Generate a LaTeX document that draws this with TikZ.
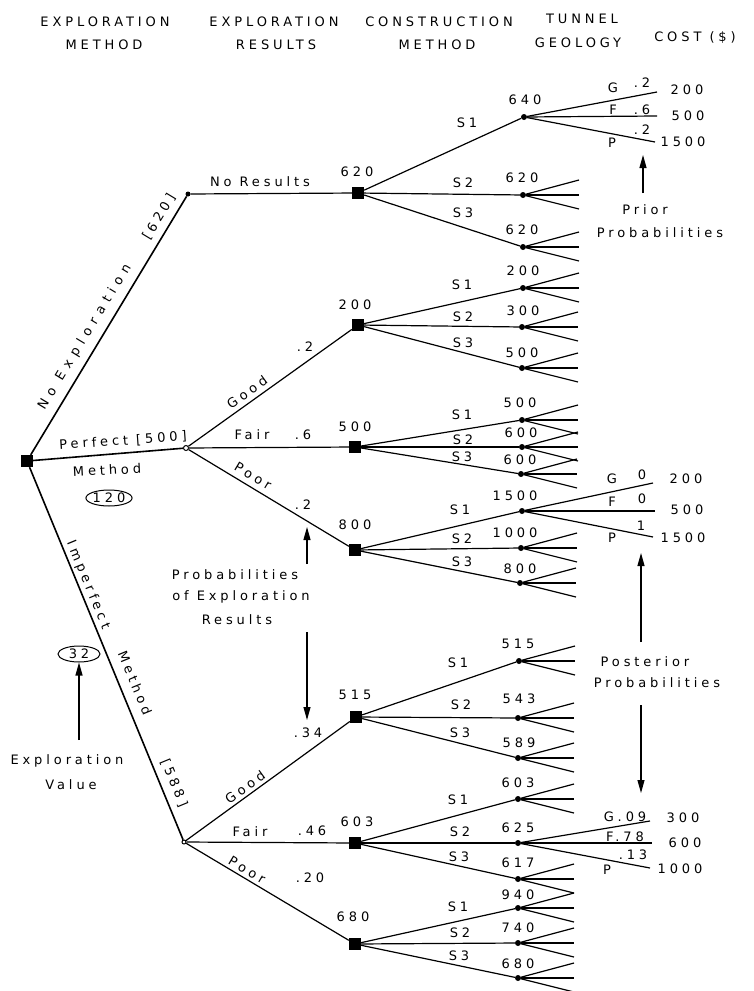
\documentclass[tikz,border=0pt]{standalone}
\usepackage{fontspec}
\newfontfamily\lf[LetterSpace=30]{DejaVu Sans}
\newfontfamily\lfw[LetterSpace=46]{DejaVu Sans}
\usetikzlibrary{arrows.meta,shapes.geometric}
\newcommand\chance[9]{\node[chn] (#1) at (#2,#3) {}; \node at (#5,#6) {#4}; \node at (#8,#9) {#7};}
\newcommand\stubs[1]{\draw[ln] (#1) -- ++(56,-15); \draw[ln] (#1) -- ++(56,0); \draw[ln] (#1) -- ++(56,14);}
\begin{document}
\begin{tikzpicture}[x=1pt,y=-1pt,
  every node/.style={font={\lf\fontsize{13}{15}\selectfont},inner sep=0pt},
  wide/.style={font={\lfw\fontsize{13}{15}\selectfont}},
  dec/.style={rectangle,fill=black,minimum size=12pt,inner sep=0pt},
  chn/.style={circle,fill=black,minimum size=6pt,inner sep=0pt},
  res/.style={circle,draw,fill=white,minimum size=5pt,inner sep=0pt,line width=1pt},
  ln/.style={line width=1.2pt},
  thk/.style={line width=1.6pt},
  arr/.style={line width=1.1pt,-{Triangle[length=13pt,width=7pt]}},
  oval/.style={ellipse,draw,line width=1pt,minimum width=42pt,minimum height=16pt}]
\useasboundingbox (0,0) rectangle (754,991);
% headers
\node at (105,22) {EXPLORATION}; \node at (104,45) {METHOD};
\node at (274,22) {EXPLORATION}; \node at (276,45) {RESULTS};
\node at (439,22) {CONSTRUCTION}; \node at (437,45) {METHOD};
\node at (582,19) {TUNNEL}; \node at (578,43) {GEOLOGY};
\node at (695,38) {COST (\$)};
% root and exploration results
\node[dec] (R) at (27,461) {};
\node[chn,minimum size=5pt] (NR) at (188,194) {};
\node[res] (PF) at (186,448) {};
\node[res,minimum size=4pt] (IM) at (184,842) {};
% decision squares
\node[dec] (D0) at (358,193) {}; \node at (357,172) {620};
\node[dec] (DG) at (358,325) {}; \node at (355,305) {200};
\node[dec] (DF) at (355,447) {}; \node at (355,427) {500};
\node[dec] (DP) at (355,550) {}; \node at (355,525) {800};
\node[dec] (IG) at (356,717) {}; \node at (355,695) {515};
\node[dec] (IF) at (355,843) {}; \node at (357,822) {603};
\node[dec] (IP) at (355,944) {}; \node at (353,917) {680};
% first level edges
\draw[thk] (R) -- (NR); \draw[thk] (R) -- (PF); \draw[thk] (R) -- (IM);
\draw[ln] (NR) -- (D0);
\draw[ln] (PF) -- (DG); \draw[ln] (PF) -- (DF); \draw[ln] (PF) -- (DP);
\draw[ln] (IM) -- (IG); \draw[ln] (IM) -- (IF); \draw[ln] (IM) -- (IP);
% first level labels
\node[wide,rotate=58.8] at (85,337) {No Exploration};
\node[rotate=58.8] at (159,217) {[620]};
\node[rotate=4] at (123,441) {Perfect [500]};
\node[rotate=3] at (107,470) {Method};
\node[oval] (v120) at (109,498) {120};
\node[rotate=-67.6] at (88,585) {Imperfect};
\node[rotate=-67.6] at (135,683) {Method};
\node[rotate=-67.6] at (174,783) {[588]};
\node at (260,182) {No Results};
\node[rotate=35.8] at (247,392) {Good}; \node at (305,347) {.2};
\node at (252,435) {Fair}; \node at (303,435) {.6};
\node[rotate=-30.9] at (253,476) {Poor}; \node at (303,505) {.2};
\node[rotate=36] at (245,787) {Good}; \node at (308,733) {.34};
\node at (250,832) {Fair}; \node at (312,831) {.46};
\node[rotate=-30.8] at (247,870) {Poor}; \node at (310,878) {.20};
% chance nodes
\chance{a1}{524}{117}{640}{525}{100}{S1}{467}{123}
\chance{a2}{523}{195}{620}{522}{178}{S2}{463}{183}
\chance{a3}{523}{247}{620}{522}{230}{S3}{463}{213}
\chance{b1}{523}{288}{200}{523}{271}{S1}{462}{285}
\chance{b2}{522}{327}{300}{523}{311}{S2}{463}{317}
\chance{b3}{522}{368}{500}{522}{353}{S3}{463}{343}
\chance{c1}{522}{420}{500}{520}{403}{S1}{462}{415}
\chance{c2}{522}{447}{600}{521}{433}{S2}{463}{440}
\chance{c3}{521}{474}{600}{520}{460}{S3}{462}{457}
\chance{d1}{522}{511}{1500}{515}{496}{S1}{460}{510}
\chance{d2}{521}{548}{1000}{515}{533}{S2}{462}{539}
\chance{d3}{520}{583}{800}{520}{569}{S3}{462}{562}
\chance{e1}{519}{661}{515}{518}{644}{S1}{458}{663}
\chance{e2}{518}{718}{543}{519}{699}{S2}{461}{705}
\chance{e3}{518}{758}{589}{519}{743}{S3}{460}{733}
\chance{f1}{518}{799}{603}{518}{783}{S1}{458}{800}
\chance{f2}{518}{843}{625}{518}{828}{S2}{460}{832}
\chance{f3}{518}{879}{617}{518}{863}{S3}{459}{857}
\chance{g1}{518}{908}{940}{518}{895}{S1}{458}{907}
\chance{g2}{518}{943}{740}{518}{928}{S2}{460}{933}
\chance{g3}{518}{978}{680}{518}{964}{S3}{459}{956}
\foreach \d/\a in {D0/a,DG/b,DF/c,DP/d,IG/e,IF/f,IP/g}{
  \draw[ln] (\d) -- (\a1); \draw[ln] (\d) -- (\a2); \draw[ln] (\d) -- (\a3);}
\foreach \n in {a2,a3,b1,b2,b3,c1,c2,c3,d2,d3,e1,e2,e3,f1,f3,g1,g2,g3}{\stubs{\n}}
% expanded geology branches
\coordinate (a1g) at (657,92); \coordinate (a1f) at (657,116); \coordinate (a1p) at (655,142);
\draw[ln] (a1) -- (a1g); \draw[ln] (a1) -- (a1f); \draw[ln] (a1) -- (a1p);
\node at (613,88) {G}; \node at (642,83) {.2}; \node at (687,90) {200};
\node at (613,110) {F}; \node at (642,110) {.6}; \node at (688,116) {500};
\node at (642,130) {.2}; \node at (612,143) {P}; \node at (683,142) {1500};
\coordinate (d1g) at (653,483); \coordinate (d1f) at (655,511); \coordinate (d1p) at (653,537);
\draw[ln] (d1) -- (d1g); \draw[ln] (d1) -- (d1f); \draw[ln] (d1) -- (d1p);
\node at (612,479) {G}; \node at (642,475) {0}; \node at (686,479) {200};
\node at (612,502) {F}; \node at (642,499) {0}; \node at (687,510) {500};
\node at (641,526) {1}; \node at (612,538) {P}; \node at (683,538) {1500};
\coordinate (f2g) at (650,821); \coordinate (f2f) at (652,843); \coordinate (f2p) at (650,868);
\draw[ln] (f2) -- (f2g); \draw[ln] (f2) -- (f2f); \draw[ln] (f2) -- (f2p);
\node at (625,817) {G.09}; \node at (683,818) {300};
\node at (625,837) {F.78}; \node at (685,843) {600};
\node at (633,855) {.13}; \node at (607,870) {P}; \node at (680,869) {1000};
% annotations
\node at (645,210) {Prior}; \node at (660,233) {Probabilities};
\coordinate (p1s) at (643,193); \coordinate (p1e) at (643,155); \draw[arr] (p1s) -- (p1e);
\node at (645,662) {Posterior}; \node at (657,683) {Probabilities};
\coordinate (p2s) at (641,642); \coordinate (p2e) at (641,553); \draw[arr] (p2s) -- (p2e);
\coordinate (p3s) at (641,705); \coordinate (p3e) at (641,793); \draw[arr] (p3s) -- (p3e);
\node at (235,575) {Probabilities}; \node at (241,597) {of Exploration}; \node at (237,620) {Results};
\coordinate (p4s) at (307,564); \coordinate (p4e) at (307,527); \draw[arr] (p4s) -- (p4e);
\coordinate (p5s) at (307,632); \coordinate (p5e) at (307,720); \draw[arr] (p5s) -- (p5e);
\node[oval] (v32) at (79,654) {32};
\node at (67,761) {Exploration}; \node at (71,785) {Value};
\coordinate (p6s) at (79,740); \draw[arr] (p6s) -- (v32.south);
\end{tikzpicture}
\end{document}
